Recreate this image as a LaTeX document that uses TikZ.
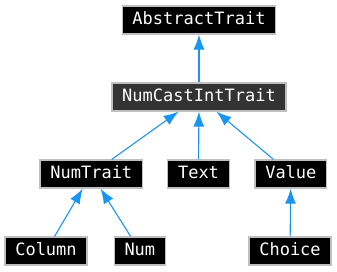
\documentclass[tikz,border=0pt]{standalone}
\usepackage{fontspec}
\setmonofont{DejaVu Sans Mono}
\usepackage{tikz}
\usetikzlibrary{arrows.meta,positioning}
\definecolor{edgeblue}{HTML}{1A96F0}
\definecolor{boxline}{HTML}{BFBFBF}

\begin{document}
\begin{tikzpicture}[
  cls/.style={draw=boxline,line width=1.2pt,fill=black,text=white,
    font=\ttfamily\fontsize{17}{20}\selectfont,inner xsep=10.3pt,inner ysep=0pt,
    minimum height=28pt,text height=12.5pt,text depth=3.5pt},
  base/.style={cls,fill=black!80},
  inh/.style={draw=edgeblue,line width=1.1pt,
    -{Latex[length=15pt,width=11pt,fill=edgeblue,color=edgeblue]}}]
\useasboundingbox (0pt,0pt) rectangle (337pt,-272pt);
\node[cls] (AbstractTrait) at (199pt,-20pt) {AbstractTrait};
\node[base] (NumCastIntTrait) at (199pt,-97pt) {NumCastIntTrait};
\node[cls] (Text) at (198.5pt,-174pt) {Text};
\node[cls] (NumTrait) [left=24pt of Text] {NumTrait};
\node[cls] (Value) [right=24.5pt of Text] {Value};
\node[cls] (Column) at (46pt,-251pt) {Column};
\node[cls] (Num) [right=26pt of Column] {Num};
\node[cls] (Choice) at (290pt,-251pt) {Choice};
% inheritance, arrow points to the parent
\draw[inh] (NumCastIntTrait) -- (AbstractTrait);
\draw[inh] (NumTrait) -- (NumCastIntTrait);
\draw[inh] (Text) -- (NumCastIntTrait);
\draw[inh] (Value) -- (NumCastIntTrait);
\draw[inh] (Column) -- (NumTrait);
\draw[inh] (Num) -- (NumTrait);
\draw[inh] (Choice) -- (Value);
\end{tikzpicture}
\end{document}
